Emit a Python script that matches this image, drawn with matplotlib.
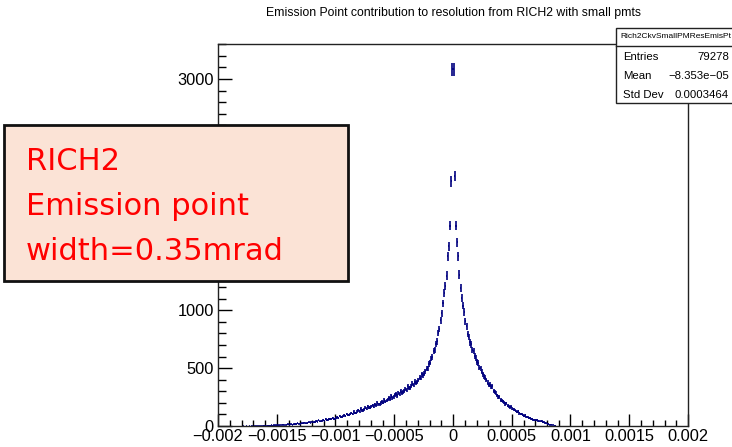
import numpy as np
import matplotlib
matplotlib.use("Agg")
import matplotlib.pyplot as plt
from matplotlib.patches import Rectangle
from matplotlib.lines import Line2D

# Histogram binning (ROOT TH1: 400 bins on [-0.002, 0.002])
x_lo, x_hi, n_bins = -0.002, 0.002, 400

# Bin contents, going outward from x = 0
# negative side: bin [-1e-5, 0] first, then further left
neg_side = [
    3085, 2114, 1733, 1554, 1467, 1300, 1207, 1152, 1060, 975,
    912, 838, 802, 731, 712, 655, 648, 598, 584, 548,
    537, 498, 494, 472, 451, 438, 447, 414, 417, 396,
    381, 371, 384, 352, 366, 348, 331, 326, 342, 309,
    318, 306, 293, 288, 304, 279, 288, 262, 275, 268,
    249, 244, 258, 232, 240, 229, 218, 211, 226, 201,
    210, 198, 187, 187, 203, 180, 188, 167, 180, 172,
    158, 158, 171, 150, 158, 146, 136, 135, 148, 128,
    135, 126, 114, 113, 125, 106, 112, 103, 96, 94,
    104, 89, 94, 87, 80, 78, 88, 73, 78, 71,
    64, 63, 72, 59, 64, 58, 51, 51, 59, 47,
    52, 46, 41, 40, 48, 37, 42, 36, 31, 32,
    38, 29, 33, 29, 24, 24, 30, 22, 25, 21,
    18, 18, 23, 16, 19, 15, 12, 13, 17, 11,
    13, 11, 8, 8, 12, 7, 9, 7, 5, 5,
    8, 5, 6, 4, 5, 3, 4, 4, 2, 2,
    3, 2, 2, 1, 2, 1, 2, 1, 1, 0,
    1, 1, 0, 1, 0, 1, 0, 0, 1, 0,
]
# positive side: bin [0, 1e-5] first, then further right
pos_side = [
    3085, 2160, 1733, 1588, 1467, 1308, 1190, 1109, 1040, 985,
    905, 862, 795, 768, 722, 705, 660, 648, 603, 590,
    552, 545, 505, 498, 470, 448, 425, 418, 396, 376,
    352, 358, 336, 342, 303, 298, 283, 264, 248, 251,
    226, 219, 213, 202, 190, 196, 175, 171, 160, 167,
    148, 144, 139, 131, 121, 127, 109, 105, 101, 94,
    87, 91, 78, 75, 73, 66, 61, 64, 54, 51,
    48, 52, 43, 41, 39, 43, 35, 31, 26, 23,
    18, 15, 11, 10, 8, 7, 4, 2,
]

x_tick_labels = ["\u22120.002", "\u22120.0015", "\u22120.001", "\u22120.0005", "0",
                 "0.0005", "0.001", "0.0015", "0.002"]
y_tick_labels = ["0", "500", "1000", "1500", "2000", "2500", "3000"]

title = "Emission Point contribution to resolution from RICH2 with small pmts"
stats_name = "Rich2CkvSmallPMResEmisPt"
stats_rows = [("Entries", "79278"), ("Mean", "\u22128.353e\u221205"), ("Std Dev", "0.0003464")]
note_lines = ["RICH2", "Emission point", "width=0.35mrad"]

W, H = 732, 447


def fx(px):
    return px / W


def fy(py):
    return 1 - py / H


# Fill the full bin array
counts = np.zeros(n_bins)
mid = n_bins // 2
counts[mid - len(neg_side):mid] = neg_side[::-1]
counts[mid:mid + len(pos_side)] = pos_side
edges = np.linspace(x_lo, x_hi, n_bins + 1)
centers = 0.5 * (edges[:-1] + edges[1:])
width = edges[1] - edges[0]
filled = counts > 0

plt.rcParams["font.family"] = ["Liberation Sans", "DejaVu Sans"]
fig = plt.figure(figsize=(W / 100, H / 100), dpi=100)
ax = fig.add_axes([fx(218), fy(426), fx(688) - fx(218), fy(44) - fy(426)])

navy = "#00007f"
ax.errorbar(centers[filled], counts[filled], yerr=np.sqrt(counts[filled]),
            xerr=width / 2, fmt="none", ecolor=navy, elinewidth=1.2)

ax.set_xlim(x_lo, x_hi)
ax.set_ylim(0, 3302)
ax.set_xticks(np.linspace(-0.002, 0.002, 9))
ax.set_xticklabels(x_tick_labels)
ax.set_xticks(np.arange(-0.002, 0.00201, 0.0001), minor=True)
ax.set_yticks(np.arange(0, 3001, 500))
ax.set_yticklabels(y_tick_labels)
ax.set_yticks(np.arange(0, 3301, 100), minor=True)
ax.tick_params(axis="x", which="major", direction="in", length=8.6, width=1, labelsize=11.8, pad=2)
ax.tick_params(axis="x", which="minor", direction="in", length=4.3, width=1)
ax.tick_params(axis="y", which="major", direction="in", length=10, width=1, labelsize=11.8, pad=3)
ax.tick_params(axis="y", which="minor", direction="in", length=5.5, width=1)
for s in ax.spines.values():
    s.set_linewidth(1)
    s.set_color("#222222")

fig.text(fx(453), fy(13), title, ha="center", va="center", fontsize=8.8)

# stats box (cut by the right edge like in ROOT canvas)
box_l, box_t, box_b, head_b = 616, 28, 103, 46
fig.add_artist(Rectangle((fx(box_l), fy(box_b)), fx(740) - fx(box_l), fy(box_t) - fy(box_b),
                         transform=fig.transFigure, facecolor="white", edgecolor="#222222",
                         lw=1, zorder=5))
fig.add_artist(Line2D([fx(box_l), fx(740)], [fy(head_b), fy(head_b)],
                      transform=fig.transFigure, color="#222222", lw=1, zorder=6))
fig.text(fx(620), fy(37), stats_name, ha="left", va="center", fontsize=6.0, zorder=7)
for i, (k, v) in enumerate(stats_rows):
    yy = fy(57 + 19 * i)
    fig.text(fx(623), yy, k, ha="left", va="center", fontsize=8.2, zorder=7)
    fig.text(fx(729), yy, v, ha="right", va="center", fontsize=8.2, zorder=7)

# annotation box
fig.add_artist(Rectangle((fx(4), fy(281)), fx(348) - fx(4), fy(125) - fy(281),
                         transform=fig.transFigure, facecolor="#fbe3d6", edgecolor="#111111",
                         lw=2, zorder=8))
for i, line in enumerate(note_lines):
    fig.text(fx(26), fy(170 + 45 * i), line, ha="left", va="baseline", fontsize=22,
             color="#ff0000", family="DejaVu Sans", zorder=9)

fig.savefig("out.png", dpi=100)
